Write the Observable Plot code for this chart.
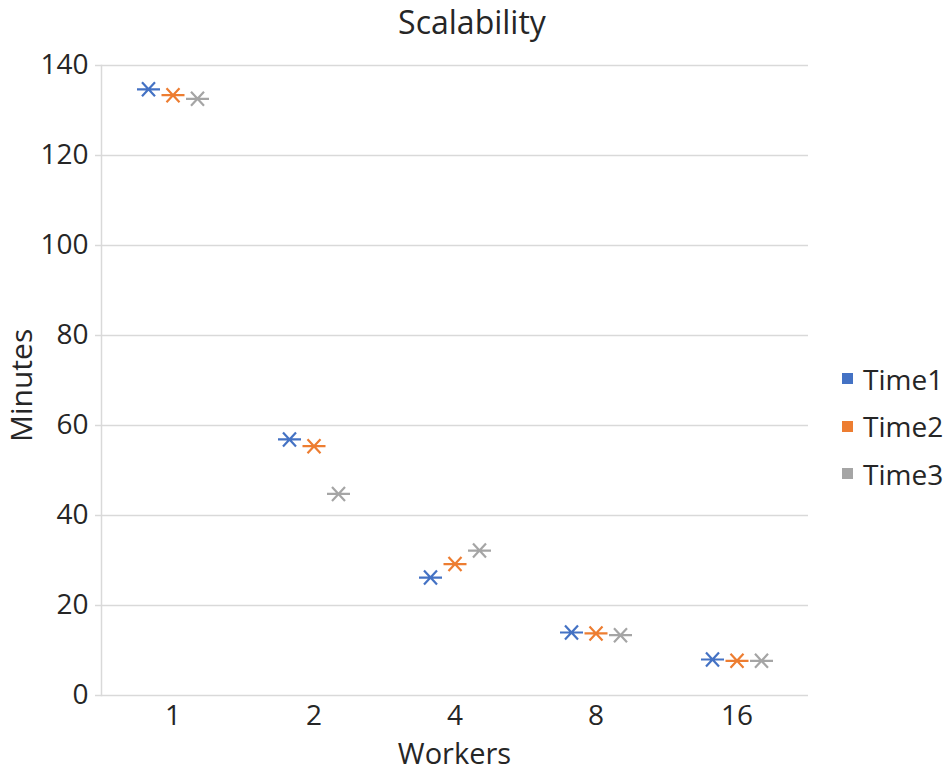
<!DOCTYPE html>
<html>
<head>
<meta charset="utf-8">
<script src="https://cdn.jsdelivr.net/npm/d3@7"></script>
<script src="https://cdn.jsdelivr.net/npm/@observablehq/plot@0.6"></script>
<style>
  html, body { margin: 0; padding: 0; background: #fff; }
  #wrap { position: relative; width: 944px; height: 773px; font-family: "Open Sans", sans-serif; color: #262626; }
  .title { position: absolute; left: 0; width: 944px; top: 0px; height: 44px; line-height: 44px; text-align: center; font-size: 32px; }
  .xlab { position: absolute; left: 101px; width: 707px; top: 733px; height: 40px; line-height: 40px; text-align: center; font-size: 29px; }
  .ylab { position: absolute; left: 0px; top: 330px; width: 42px; height: 112px; line-height: 42px; font-size: 30px; writing-mode: vertical-rl; transform: rotate(180deg); text-align: center; white-space: nowrap; }
  .legend { position: absolute; left: 842px; top: 355px; font-size: 28px; }
  .legend .row { height: 47.5px; display: flex; align-items: center; }
  .legend .sw { width: 11px; height: 11px; margin-right: 10px; }
</style>
</head>
<body>
<div id="wrap">
  <div class="title">Scalability</div>
  <div class="ylab">Minutes</div>
  <div class="xlab">Workers</div>
  <div class="legend" id="legend"></div>
</div>
<script>
const workers = ["1", "2", "4", "8", "16"];
const seriesNames = ["Time1", "Time2", "Time3"];
const time1 = [134.7, 56.9, 26.2, 14.0, 8.0];
const time2 = [133.4, 55.4, 29.2, 13.8, 7.7];
const time3 = [132.6, 44.8, 32.2, 13.4, 7.7];
const colors = ["#4472C4", "#ED7D31", "#A5A5A5"];
const yTicks = [0, 20, 40, 60, 80, 100, 120, 140];

const seriesValues = [time1, time2, time3];
const rows = [];
seriesNames.forEach((s, si) => workers.forEach((w, i) => rows.push({series: s, workers: w, minutes: seriesValues[si][i]})));

const star = {
  draw(ctx) {
    ctx.moveTo(-11.5, 0); ctx.lineTo(11.5, 0);
    ctx.moveTo(-6.5, -7); ctx.lineTo(6.5, 7);
    ctx.moveTo(-6.5, 7); ctx.lineTo(6.5, -7);
  }
};
const offsets = [-24.5, 0, 24.5];

const chart = Plot.plot({
  width: 944,
  height: 773,
  marginTop: 65,
  marginBottom: 78,
  marginLeft: 101,
  marginRight: 136,
  style: {fontFamily: "Open Sans, sans-serif", background: "transparent", overflow: "visible"},
  x: {type: "band", domain: workers, padding: 0},
  y: {domain: [0, 140]},
  marks: [
    Plot.gridY(yTicks, {stroke: "#d9d9d9", strokeOpacity: 1, strokeWidth: 1.5}),
    Plot.frame({anchor: "left", stroke: "#d9d9d9", strokeWidth: 1.5}),
    Plot.axisY(yTicks, {tickSize: 6, tickPadding: 7, stroke: "#d9d9d9", strokeWidth: 1.5, fill: "#262626", fontSize: 28, label: null}),
    Plot.axisX({tickSize: 0, tickPadding: 10, fill: "#262626", fontSize: 28, label: null}),
    ...seriesNames.map((s, si) => Plot.dot(rows.filter(d => d.series === s), {
      x: "workers", y: "minutes", symbol: star, stroke: colors[si], fill: "none", strokeWidth: 2.2, dx: offsets[si]
    }))
  ]
});
document.getElementById("wrap").prepend(chart);
chart.style.position = "absolute";
chart.style.left = "0";
chart.style.top = "0";

const legend = document.getElementById("legend");
seriesNames.forEach((s, i) => {
  const row = document.createElement("div");
  row.className = "row";
  row.innerHTML = `<span class="sw" style="background:${colors[i]}"></span><span>${s}</span>`;
  legend.appendChild(row);
});
</script>
</body>
</html>
